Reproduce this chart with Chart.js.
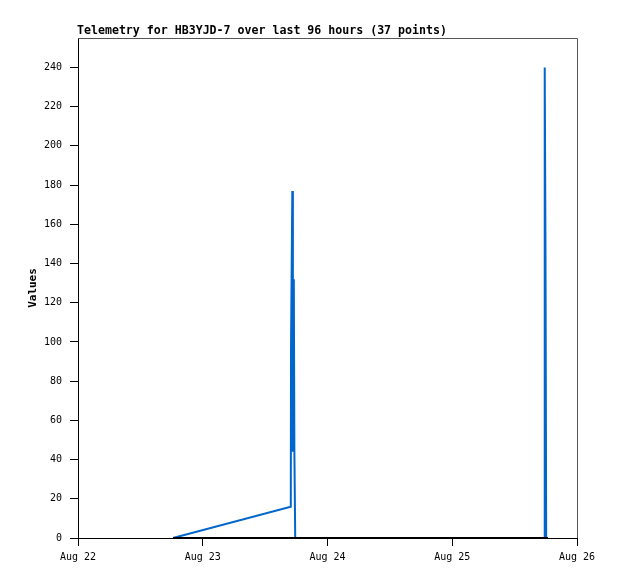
<!DOCTYPE html>
<html>
<head>
<meta charset="utf-8">
<script src="https://cdn.jsdelivr.net/npm/chart.js@4/dist/chart.umd.min.js"></script>
<style>
  html, body { margin: 0; padding: 0; background: #fff; }
  canvas { display: block; }
</style>
</head>
<body>
<canvas id="myChart" width="618" height="579"></canvas>
<script>
// hours since Aug 22 00:00
const hours = [18.28, 40.94, 40.98, 41.23, 41.34, 41.52, 41.63, 41.79, 89.71, 89.79, 89.94, 90.07, 90.42];
const telemetry = [0, 16, 96, 177, 44, 132, 44, 0, 0, 240, 144, 0, 0];
const baseline = [0, 0, 0, 0, 0, 0, 0, 0, 0, 0, 0, 0, 0];
const dayLabels = ['Aug 22', 'Aug 23', 'Aug 24', 'Aug 25', 'Aug 26'];
const titleText = 'Telemetry for HB3YJD-7 over last 96 hours (37 points)';

const mono = 'DejaVu Sans Mono';

const frame = {
  id: 'frame',
  afterDraw(chart) {
    const c = chart.ctx, a = chart.chartArea;
    c.save();
    c.strokeStyle = '#555';
    c.lineWidth = 1;
    c.beginPath();
    c.moveTo(a.left, a.top + 0.5);
    c.lineTo(a.right + 0.5, a.top + 0.5);
    c.lineTo(a.right + 0.5, a.bottom);
    c.stroke();
    c.fillStyle = '#000';
    c.font = 'bold 11.6px "' + mono + '"';
    c.textBaseline = 'alphabetic';
    c.fillText(titleText, 77, 34);
    c.font = 'bold 11px "' + mono + '"';
    c.translate(36, (a.top + a.bottom) / 2);
    c.rotate(-Math.PI / 2);
    c.textAlign = 'center';
    c.fillText('Values', 0, 0);
    c.restore();
  }
};

new Chart(document.getElementById('myChart'), {
  type: 'line',
  data: {
    datasets: [{
      data: hours.map((h, i) => ({ x: h, y: baseline[i] })),
      borderColor: '#000',
      borderWidth: 2,
      pointRadius: 0
    }, {
      data: hours.map((h, i) => ({ x: h, y: telemetry[i] })),
      borderColor: '#0066cc',
      borderWidth: 2,
      pointRadius: 0
    }]
  },
  options: {
    responsive: false,
    animation: false,
    layout: { padding: { top: 38, right: 41, left: 0, bottom: 0 } },
    plugins: { legend: { display: false }, tooltip: { enabled: false } },
    scales: {
      x: {
        type: 'linear',
        min: 0,
        max: 96,
        afterFit: (s) => { s.height = 41; },
        afterBuildTicks: (s) => { s.ticks = [0, 24, 48, 72, 96].map(v => ({ value: v })); },
        ticks: {
          color: '#000',
          font: { family: mono, size: 10 },
          padding: 5,
          maxRotation: 0,
          callback: (v) => dayLabels[v / 24]
        },
        grid: { drawOnChartArea: false, tickLength: 8, color: '#000' },
        border: { color: '#000' }
      },
      y: {
        min: 0,
        max: 255,
        afterFit: (s) => { s.width = 78; },
        afterBuildTicks: (s) => { s.ticks = s.ticks.filter(t => t.value % 20 === 0); },
        ticks: {
          stepSize: 20,
          color: '#000',
          font: { family: mono, size: 10 },
          padding: 8
        },
        grid: { drawOnChartArea: false, tickLength: 8, color: '#000' },
        border: { color: '#000' }
      }
    }
  },
  plugins: [frame]
});
</script>
</body>
</html>
